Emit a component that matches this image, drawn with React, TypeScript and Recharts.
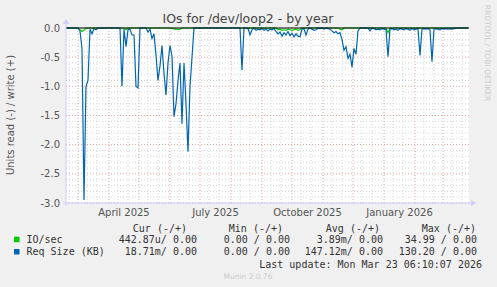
import {
  LineChart,
  Line,
  XAxis,
  YAxis,
  CartesianGrid,
  ReferenceLine,
} from "recharts"

// one value every 2 days, starting 2025-02-17
const reqSize = [
  0, 0, 0, 0, 0, 0, 0, -0.05, -0.35, -2.95,
  -1.0, -0.9, -0.02, -0.1, -0.01, -0.03, 0, 0, 0, 0,
  0, 0, 0, 0, 0, 0, 0, 0, -1.0, -0.02,
  -0.32, -0.03, -0.02, -0.12, -0.12, -1.0, -1.03, 0, 0, 0,
  0, -0.07, -0.02, -0.18, -0.1, -0.47, -0.9, -0.65, -0.3, -0.78,
  -1.15, -0.6, -0.3, -0.48, -1.52, -1.3, -0.9, -0.6, -1.64, -0.6,
  -1.3, -2.12, -1.0, -0.5, 0, 0, 0, 0, 0, 0,
  0, 0, 0, 0, 0, 0, 0, 0, 0, 0,
  0, 0, 0, 0, 0, 0, 0, 0, -0.72, 0,
  0, -0.01, -0.12, -0.03, 0, -0.04, -0.02, -0.03, -0.01, -0.04,
  -0.02, -0.05, -0.02, -0.03, -0.01, -0.06, -0.1, -0.07, -0.14, -0.08,
  -0.12, -0.06, -0.13, -0.09, -0.15, -0.1, -0.14, -0.15, -0.02, -0.01,
  -0.12, -0.02, 0, -0.02, -0.04, -0.03, 0, -0.01, 0, -0.02,
  0, -0.01, -0.02, -0.05, -0.08, -0.06, -0.1, -0.08, -0.2, -0.38,
  -0.32, -0.52, -0.45, -0.67, -0.35, -0.45, -0.05, 0, 0, 0,
  0, 0, -0.05, 0, -0.01, -0.03, -0.02, -0.03, -0.01, -0.02,
  -0.03, -0.49, -0.02, -0.01, -0.03, -0.02, -0.04, -0.01, -0.02, -0.03,
  -0.01, -0.02, -0.04, -0.01, -0.03, -0.02, -0.01, -0.47, -0.02, -0.01,
  -0.02, -0.01, -0.03, -0.58, -0.02, -0.01, -0.02, -0.03, -0.01, -0.02,
  -0.01, -0.02, -0.01, -0.02, -0.01, 0, 0, 0, 0, 0,
  0, 0,
]

const ioSec = [
  0, 0, 0, 0, 0, 0, 0, -0.03, -0.06, -0.04,
  0, 0, 0, 0, 0, 0, 0, 0, 0, 0,
  0, 0, 0, 0, 0, 0, 0, 0, 0, 0,
  -0.03, 0, 0, 0, 0, 0, 0, 0, 0, 0,
  0, 0, 0, 0, 0, 0, 0, 0, 0, 0,
  0, 0, 0, 0, -0.02, -0.02, -0.03, -0.02, 0, 0,
  0, 0, 0, 0, 0, 0, 0, 0, 0, 0,
  0, 0, 0, 0, 0, 0, 0, 0, 0, 0,
  0, 0, 0, 0, 0, 0, 0, 0, 0, 0,
  0, 0, 0, 0, 0, 0, 0, 0, 0, 0,
  0, 0, 0, 0, 0, 0, -0.03, -0.02, -0.04, -0.03,
  -0.04, -0.02, -0.03, -0.04, -0.03, -0.02, -0.04, -0.03, 0, 0,
  0, 0, 0, 0, 0, 0, 0, 0, 0, 0,
  0, 0, 0, 0, 0, 0, 0, -0.02, -0.03, 0,
  0, 0, 0, 0, 0, 0, 0, 0, 0, 0,
  0, 0, 0, 0, 0, 0, 0, 0, 0, 0,
  0, -0.08, 0, 0, 0, 0, 0, 0, 0, 0,
  0, 0, 0, 0, 0, 0, 0, 0, 0, 0,
  0, 0, 0, 0, 0, 0, 0, 0, 0, 0,
  0, 0, 0, 0, 0, 0, 0, 0, 0, 0,
  0, 0,
]

const monthStarts = [
  "2025-02-01", "2025-03-01", "2025-04-01", "2025-05-01", "2025-06-01",
  "2025-07-01", "2025-08-01", "2025-09-01", "2025-10-01", "2025-11-01",
  "2025-12-01", "2026-01-01", "2026-02-01", "2026-03-01",
]

const labelMonths = [
  { name: "April 2025", from: "2025-04-01", to: "2025-05-01" },
  { name: "July 2025", from: "2025-07-01", to: "2025-08-01" },
  { name: "October 2025", from: "2025-10-01", to: "2025-11-01" },
  { name: "January 2026", from: "2026-01-01", to: "2026-02-01" },
]

const yTicks = [0, -0.5, -1.0, -1.5, -2.0, -2.5, -3.0]

const legendRows = [
  { name: "IO/sec", color: "#00cc00", cur: "442.87u/ 0.00", min: "0.00 / 0.00", avg: "3.89m/ 0.00", max: "34.99 / 0.00" },
  { name: "Req Size (KB)", color: "#0066b3", cur: "18.71m/ 0.00", min: "0.00 / 0.00", avg: "147.12m/ 0.00", max: "130.20 / 0.00" },
]

const DAY = 86400000
const origin = Date.UTC(2025, 1, 17)
const dayOf = (s: string) => (Date.parse(s) - origin) / DAY
const SPAN = 403

const data = reqSize.map((v, i) => ({ day: i * 2, req: v, io: ioSec[i] }))

const monthLines = monthStarts.map(dayOf).filter((d) => d >= 0 && d <= SPAN)
const minorLines = monthStarts
  .flatMap((s) => [dayOf(s) + 9, dayOf(s) + 19])
  .filter((d) => d >= 0 && d <= SPAN)
const labelTicks = labelMonths.map((m) => (dayOf(m.from) + dayOf(m.to)) / 2)
const yMinor: number[] = []
for (let k = 1; k < 30; k++) if (k % 5) yMinor.push(-k / 10)

const sans = "'DejaVu Sans', sans-serif"
const mono = "'DejaVu Sans Mono', monospace"
const W = 497
const H = 287
const minorColor = "#d6d6d6"
const majorColor = "#eaa3a3"

export default function App() {
  return (
    <div
      style={{
        position: "absolute",
        left: 0,
        top: 0,
        width: W,
        height: H,
        background: "#f0f0f0",
      }}
    >
      <LineChart
        width={W}
        height={H}
        data={data}
        margin={{ top: 28, right: 28, bottom: 54, left: 0 }}
      >
        <CartesianGrid fill="#ffffff" horizontal={false} vertical={false} />
        {yMinor.map((v) => (
          <ReferenceLine key={"hm" + v} y={v} stroke={minorColor} strokeDasharray="1 2" />
        ))}
        {minorLines.map((v) => (
          <ReferenceLine key={"vm" + v} x={v} stroke={minorColor} strokeDasharray="1 2" />
        ))}
        {yTicks.map((v) => (
          <ReferenceLine key={"hM" + v} y={v} stroke={majorColor} strokeDasharray="1 2" />
        ))}
        {monthLines.map((v) => (
          <ReferenceLine key={"vM" + v} x={v} stroke={majorColor} strokeDasharray="1 2" />
        ))}
        <XAxis
          dataKey="day"
          type="number"
          domain={[0, SPAN]}
          ticks={labelTicks}
          tickFormatter={(v: number) =>
            labelMonths[labelTicks.indexOf(v)]?.name ?? ""
          }
          axisLine={false}
          tickLine={false}
          tickSize={0}
          tickMargin={6}
          height={30}
          tick={{ fontSize: 10, fill: "#555", fontFamily: sans }}
        />
        <YAxis
          type="number"
          domain={[-3, 0]}
          ticks={yTicks}
          tickFormatter={(v: number) => v.toFixed(1)}
          axisLine={false}
          tickLine={false}
          tickSize={0}
          tickMargin={6}
          width={66}
          tick={{ fontSize: 10, fill: "#555", fontFamily: sans }}
        />
        <Line
          dataKey="io"
          stroke="#00cc00"
          strokeWidth={1.2}
          dot={false}
          isAnimationActive={false}
        />
        <Line
          dataKey="req"
          stroke="#0066b3"
          strokeWidth={1.2}
          dot={false}
          isAnimationActive={false}
        />
        <ReferenceLine y={0} stroke="#000" strokeWidth={1} />
      </LineChart>

      <svg
        width={W}
        height={H}
        style={{ position: "absolute", left: 0, top: 0, pointerEvents: "none" }}
      >
        <text x={248} y={18} textAnchor="middle" dominantBaseline="central" fontFamily={sans} fontSize={12.5} fill="#444">
          IOs for /dev/loop2 - by year
        </text>
        <text
          transform="translate(10,115) rotate(-90)"
          textAnchor="middle"
          dominantBaseline="central"
          fontFamily={sans}
          fontSize={10}
          fill="#555"
        >
          Units read (-) / write (+)
        </text>
        <text
          transform="translate(487.5,53) rotate(90)"
          textAnchor="middle"
          dominantBaseline="central"
          fontFamily={sans}
          fontSize={7.5}
          fill="#cccccc"
        >
          RRDTOOL / TOBI OETIKER
        </text>

        {/* axes with arrows */}
        <line x1={66} y1={206} x2={66} y2={24} stroke="#ccccff" />
        <polygon points="63,24 69,24 66,19" fill="#ccccff" />
        <line x1={63} y1={203} x2={471} y2={203} stroke="#ccccff" />
        <polygon points="471,200 471,206 476,203" fill="#ccccff" />

        <g fontFamily={mono} fontSize={10} fill="#333" dominantBaseline="central">
          <text x={187} y={228} textAnchor="end">Cur (-/+)</text>
          <text x={283} y={228} textAnchor="end">Min (-/+)</text>
          <text x={380} y={228} textAnchor="end">Avg (-/+)</text>
          <text x={476} y={228} textAnchor="end">Max (-/+)</text>
          {legendRows.map((r, i) => {
            const y = 239.5 + i * 12.3
            return (
              <g key={r.name}>
                <rect x={14} y={y - 2.8} width={5.5} height={5.5} fill={r.color} />
                <text x={26.5} y={y}>{r.name}</text>
                <text x={197} y={y} textAnchor="end">{r.cur}</text>
                <text x={290} y={y} textAnchor="end">{r.min}</text>
                <text x={383} y={y} textAnchor="end">{r.avg}</text>
                <text x={477} y={y} textAnchor="end">{r.max}</text>
              </g>
            )
          })}
          <text x={482} y={264} textAnchor="end">Last update: Mon Mar 23 06:10:07 2026</text>
        </g>
        <text x={248} y={276} textAnchor="middle" dominantBaseline="central" fontFamily={sans} fontSize={7.5} fill="#cccccc">
          Munin 2.0.76
        </text>
      </svg>
    </div>
  )
}
